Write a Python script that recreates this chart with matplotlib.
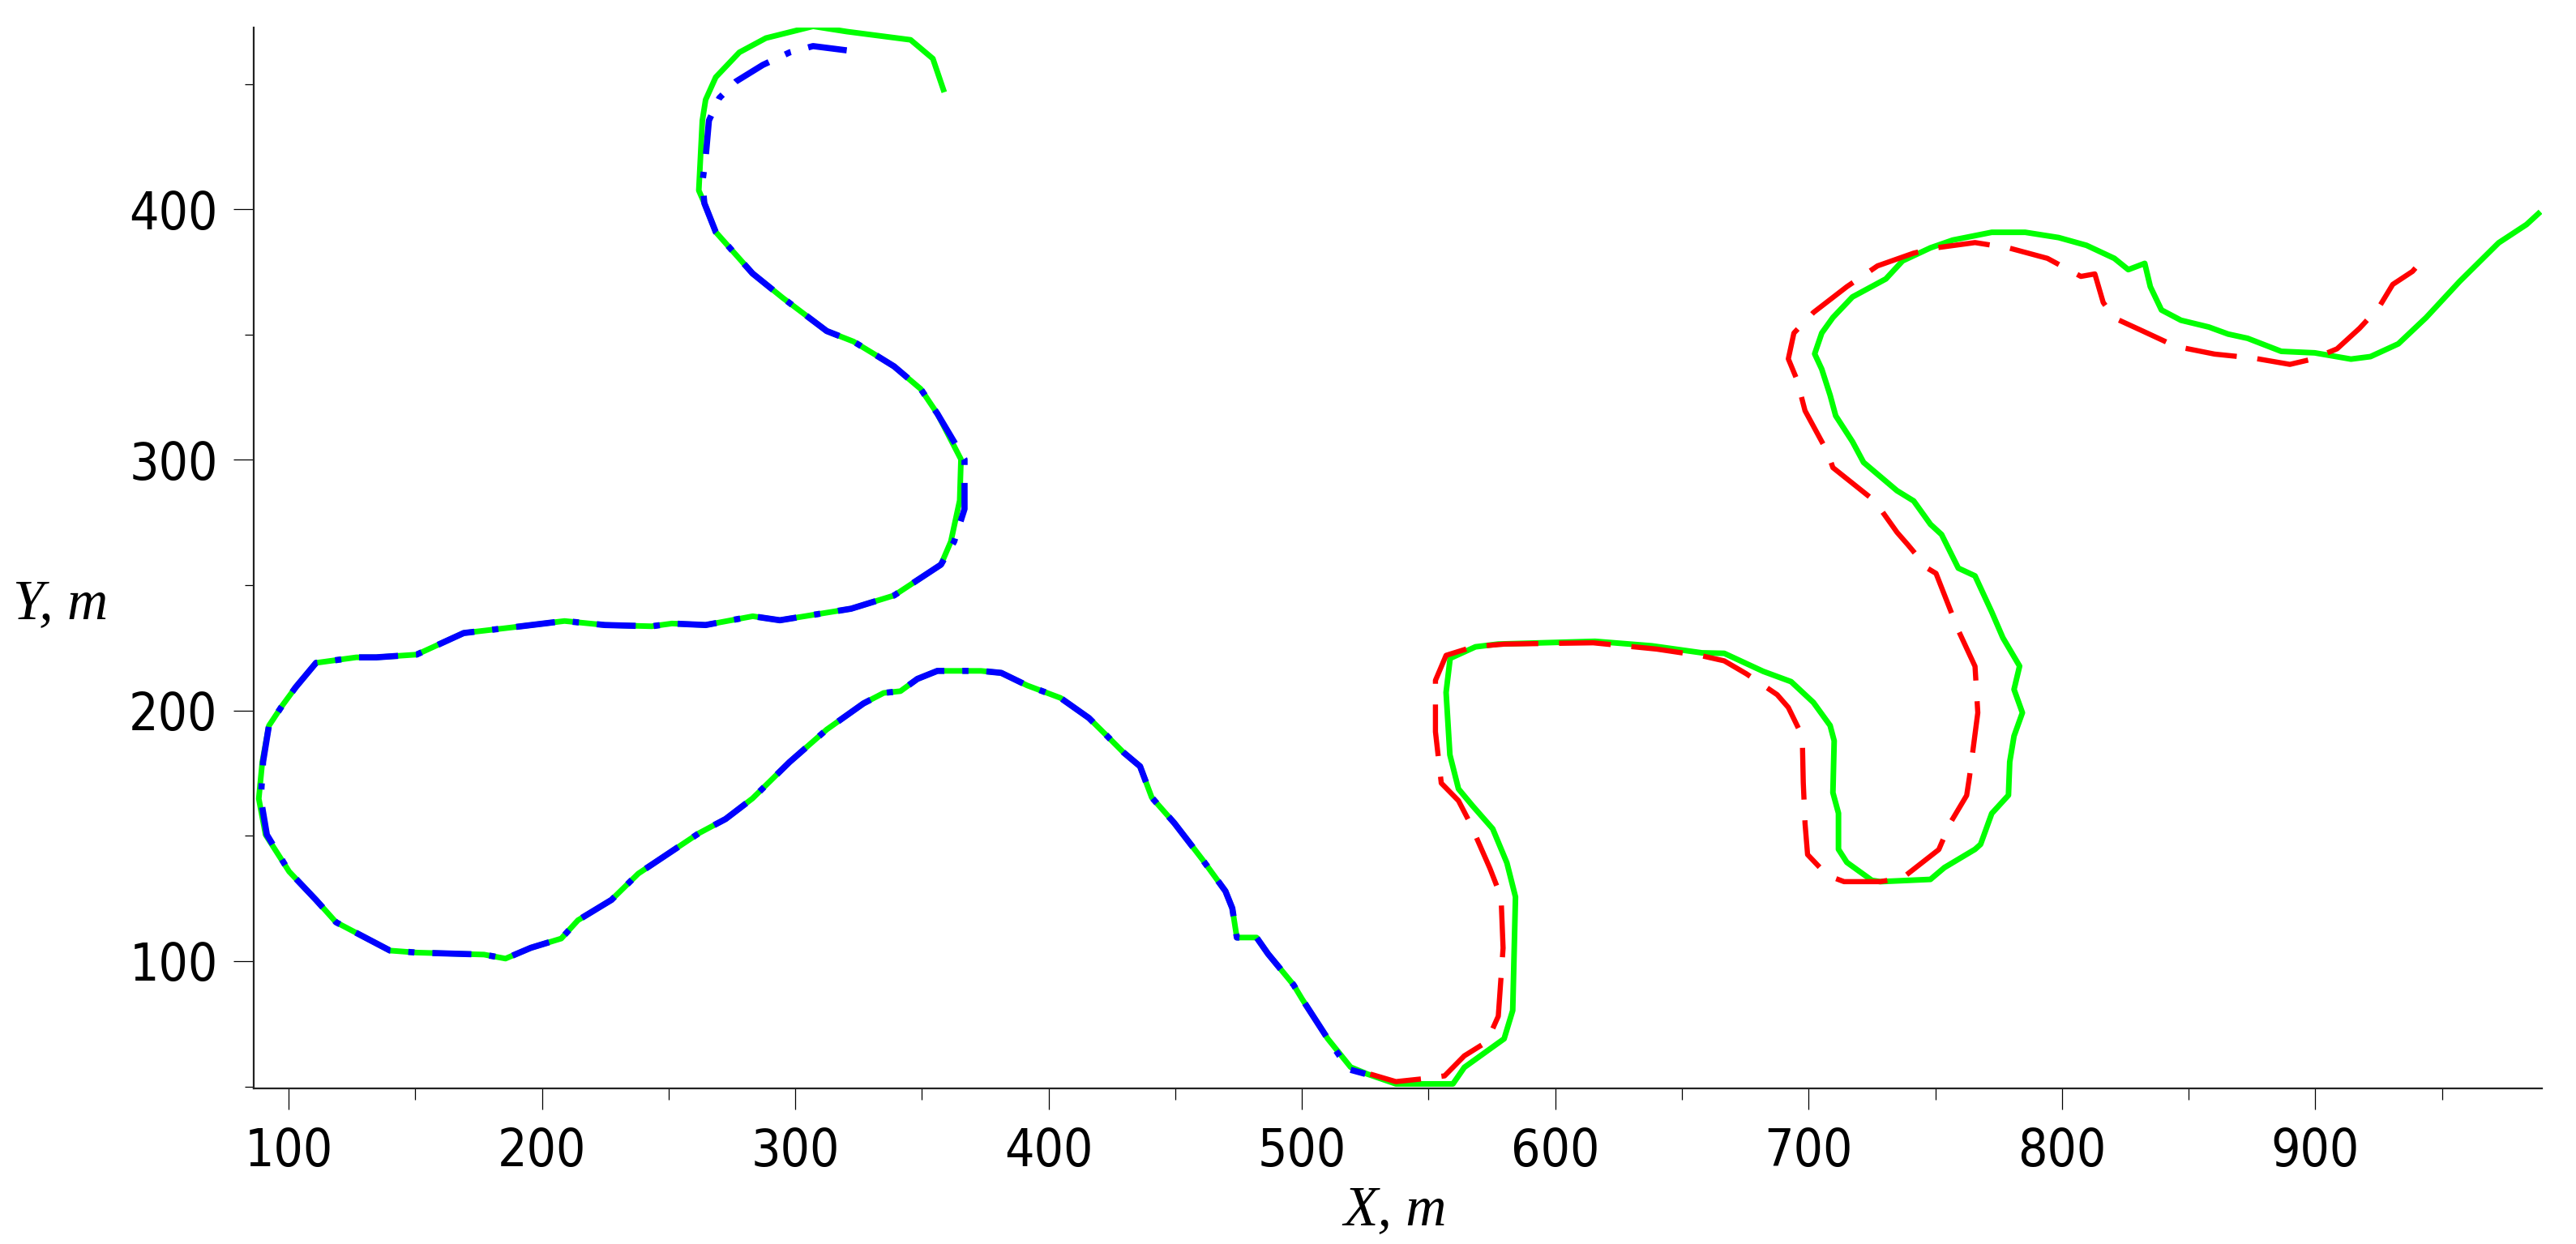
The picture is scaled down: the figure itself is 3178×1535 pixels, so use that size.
import matplotlib
matplotlib.use("Agg")
import matplotlib.pyplot as plt
from matplotlib.ticker import MultipleLocator

# ---- data ----
green_x = [358.8, 354.3, 345.5, 320.3, 307.0, 288.4, 277.9, 268.6, 264.6, 263.3,
           261.9, 264.1, 268.6, 283.1, 295.1, 312.4, 323.0, 331.0, 339.0, 349.5,
           356.1, 365.4, 364.9, 361.4, 357.5, 339.0, 322.0, 293.9, 283.2, 264.6,
           251.3, 243.3, 224.8, 208.9, 187.7, 169.1, 150.5, 134.6, 126.7, 110.8,
           102.8, 97.5, 92.2, 89.6, 88.2, 90.9, 100.2, 110.8, 118.7, 140.0,
           150.5, 177.1, 185.6, 195.6, 207.6, 214.2, 227.4, 238.0, 261.9, 272.5,
           283.1, 297.7, 312.4, 326.9, 334.9, 341.5, 348.2, 356.1, 373.3, 381.3,
           391.5, 404.7, 415.9, 422.7, 429.4, 436.1, 440.7, 449.6, 460.8, 469.8,
           472.5, 474.3, 482.1, 486.6, 496.7, 500.1, 510.2, 519.2, 525.9, 537.1,
           559.6, 564.1, 579.8, 583.2, 584.3, 580.9, 575.3, 567.4, 561.8, 558.4,
           556.9, 558.5, 568.5, 577.5, 615.7, 638.1, 657.9, 666.7, 682.1, 693.1,
           701.9, 708.5, 710.1, 709.6, 711.8, 711.8, 715.1, 725.0, 728.3, 748.1,
           753.6, 765.7, 767.9, 772.3, 778.9, 779.4, 781.1, 784.4, 781.1, 783.3,
           776.7, 772.3, 765.7, 759.1, 752.5, 748.1, 741.5, 734.9, 721.7, 717.3,
           710.7, 708.5, 705.2, 702.4, 705.2, 709.6, 717.3, 730.5, 737.1, 748.1,
           756.9, 772.3, 785.5, 798.7, 809.7, 820.7, 826.2, 832.7, 834.9, 839.3,
           847.0, 858.0, 865.6, 873.3, 886.6, 899.8, 914.1, 921.8, 932.8, 943.8,
           957.0, 972.4, 983.4, 988.9]
green_y = [446.7, 460.1, 467.6, 470.9, 473.0, 468.3, 462.6, 452.7, 443.7, 435.4,
           407.5, 402.4, 390.9, 374.4, 364.6, 351.4, 347.2, 342.3, 337.3, 328.3,
           318.4, 300.2, 283.8, 267.4, 258.2, 245.9, 240.6, 236.0, 237.6, 234.1,
           234.7, 233.6, 234.1, 235.7, 233.1, 230.9, 222.3, 221.2, 221.2, 219.0,
           209.3, 202.0, 193.9, 179.5, 164.8, 150.4, 135.7, 124.4, 115.5, 104.2,
           103.4, 102.6, 101.0, 105.3, 109.0, 116.3, 124.4, 134.9, 151.0, 156.7,
           164.9, 179.4, 192.4, 202.8, 207.0, 207.7, 212.6, 215.8, 215.8, 215.0,
           210.0, 205.0, 197.0, 190.2, 183.4, 177.7, 165.3, 155.1, 140.4, 127.9,
           121.1, 109.4, 109.4, 102.9, 90.5, 84.8, 69.0, 57.7, 54.9, 51.0,
           51.0, 57.6, 69.0, 80.3, 125.6, 139.2, 152.8, 161.9, 168.7, 182.3,
           207.2, 220.8, 225.4, 226.5, 227.6, 225.8, 223.0, 222.8, 215.6, 211.5,
           203.2, 194.0, 187.9, 167.2, 159.0, 144.6, 139.4, 132.2, 131.7, 132.6,
           137.3, 144.6, 146.6, 158.9, 166.2, 179.5, 189.8, 199.1, 208.4, 217.7,
           229.0, 239.3, 253.7, 256.8, 270.2, 274.3, 283.6, 287.7, 299.0, 307.3,
           317.6, 325.8, 336.2, 342.3, 350.6, 356.8, 365.0, 372.2, 379.4, 384.6,
           387.7, 390.8, 390.8, 388.7, 385.6, 380.4, 375.9, 378.4, 369.1, 359.8,
           355.7, 353.0, 350.2, 348.5, 343.3, 342.7, 340.2, 341.2, 346.3, 356.8,
           371.2, 386.6, 393.9, 399.0]

blue_x = [320.3, 307.0, 297.8, 287.2, 276.6, 270.0, 265.9, 264.6, 263.3, 264.1,
          268.6, 283.1, 295.1, 312.4, 323.0, 331.0, 339.0, 349.5, 356.1, 366.8,
          366.8, 362.7, 357.5, 339.0, 322.0, 293.9, 283.2, 264.6, 251.3, 243.3,
          224.8, 208.9, 187.7, 169.1, 150.5, 134.6, 126.7, 110.8, 102.8, 97.5,
          92.2, 89.9, 89.0, 91.4, 100.2, 110.8, 118.7, 140.0, 150.5, 177.1,
          185.6, 195.6, 207.6, 214.2, 227.4, 238.0, 261.9, 272.5, 283.1, 297.7,
          312.4, 326.9, 334.9, 341.5, 348.2, 356.1, 373.3, 381.3, 391.5, 404.7,
          415.9, 422.7, 429.4, 436.1, 440.7, 449.6, 460.8, 469.8, 472.5, 474.3,
          482.1, 486.6, 496.7, 500.1, 510.2, 518.5, 525.0]
blue_y = [463.4, 465.1, 462.6, 457.6, 451.0, 444.4, 435.4, 420.5, 410.6, 402.4,
          390.9, 374.4, 364.6, 351.4, 347.2, 342.3, 337.3, 328.3, 318.4, 300.2,
          280.4, 267.4, 258.2, 245.9, 240.6, 236.0, 237.6, 234.1, 234.7, 233.6,
          234.1, 235.7, 233.1, 230.9, 222.3, 221.2, 221.2, 219.0, 209.3, 202.0,
          193.9, 179.5, 164.8, 150.4, 135.7, 124.4, 115.5, 104.2, 103.4, 102.6,
          101.0, 105.3, 109.0, 116.3, 124.4, 134.9, 151.0, 156.7, 164.9, 179.4,
          192.4, 202.8, 207.0, 207.7, 212.6, 215.8, 215.8, 215.0, 210.0, 205.0,
          197.0, 190.2, 183.4, 177.7, 165.3, 155.1, 140.4, 127.9, 121.1, 109.4,
          109.4, 102.9, 90.5, 84.8, 69.0, 56.8, 55.0]

red_x = [527.0, 537.1, 548.3, 556.3, 564.1, 573.0, 577.5, 579.4, 578.6, 574.2,
         566.4, 561.8, 555.0, 552.7, 552.7, 556.9, 568.0, 580.0, 615.0, 640.0,
         657.9, 666.7, 675.5, 687.6, 692.0, 697.5, 697.9, 698.6, 699.6, 707.4,
         714.0, 728.3, 737.1, 751.4, 755.8, 762.4, 763.5, 766.8, 765.7, 759.1,
         750.3, 747.0, 739.3, 734.9, 726.1, 709.6, 707.4, 698.6, 695.4, 692.0,
         694.2, 701.9, 715.1, 727.2, 741.5, 750.3, 765.7, 778.9, 794.3, 807.5,
         813.0, 816.3, 820.7, 831.7, 844.9, 860.3, 875.7, 890.0, 898.8, 908.6,
         917.5, 925.1, 930.6, 938.4, 943.8]
red_y = [54.9, 51.9, 53.1, 54.2, 62.2, 67.8, 78.0, 105.2, 125.6, 137.0,
         155.0, 164.0, 171.0, 191.5, 212.0, 222.0, 225.5, 226.5, 227.0, 224.5,
         221.8, 219.8, 214.6, 206.3, 201.2, 189.8, 171.3, 154.9, 142.5, 134.2,
         131.7, 131.7, 133.2, 144.5, 154.9, 166.1, 173.4, 199.1, 217.6, 232.0,
         254.7, 256.7, 266.0, 271.1, 283.6, 296.9, 303.2, 319.6, 332.0, 340.3,
         350.6, 358.8, 369.1, 377.4, 382.5, 384.6, 386.7, 384.6, 380.4, 373.2,
         374.2, 362.8, 356.6, 351.5, 345.3, 342.2, 340.6, 338.1, 340.2, 344.3,
         352.5, 360.8, 370.0, 375.2, 381.4]

x_ticks = [100, 200, 300, 400, 500, 600, 700, 800, 900]
y_ticks = [100, 200, 300, 400]
x_label = "X, m"
y_label = "Y, m"

# ---- figure ----
W, H = 3178, 1535
fig = plt.figure(figsize=(W / 100, H / 100), dpi=100)
ax = fig.add_axes([313 / W, 1 - 1343 / H, (3136 - 313) / W, (1343 - 34) / H])

ax.plot(green_x, green_y, color="#00ff00", lw=5.0, solid_joinstyle="round",
        solid_capstyle="butt", zorder=2)
ax.plot(blue_x, blue_y, color="#0000ff", lw=5.5, dashes=(6.3, 2.9, 1, 2.9),
        dash_capstyle="butt", zorder=3)
ax.plot(red_x, red_y, color="#ff0000", lw=4.6, dashes=(10, 4),
        dash_capstyle="butt", zorder=3)

ax.set_xlim(86.2, 989.5)
ax.set_ylim(49.2, 472.5)

for s in ("top", "right"):
    ax.spines[s].set_visible(False)
for s in ("left", "bottom"):
    ax.spines[s].set_linewidth(1.6)
    ax.spines[s].set_color("#222222")

ax.set_xticks(x_ticks)
ax.set_yticks(y_ticks)
ax.xaxis.set_minor_locator(MultipleLocator(50))
ax.yaxis.set_minor_locator(MultipleLocator(50))
ax.tick_params(axis="x", which="major", length=19, width=0.9, pad=15,
               labelsize=46, direction="out")
ax.tick_params(axis="x", which="minor", length=10, width=0.9, direction="out")
ax.tick_params(axis="y", which="major", length=18, width=0.9, pad=14,
               labelsize=46, direction="out")
ax.tick_params(axis="y", which="minor", length=8, width=0.9, direction="out")
for lab in ax.get_xticklabels() + ax.get_yticklabels():
    lab.set_fontfamily("DejaVu Sans")
    lab.set_fontstretch("condensed")

fig.text(1721 / W, 1 - 1494 / H, x_label, ha="center", va="center",
         fontsize=50, fontstyle="italic", family="Liberation Serif")
fig.text(16 / W, 1 - 746 / H, y_label, ha="left", va="center",
         fontsize=50, fontstyle="italic", family="Liberation Serif")

fig.savefig("out.png", dpi=100, facecolor="white")
